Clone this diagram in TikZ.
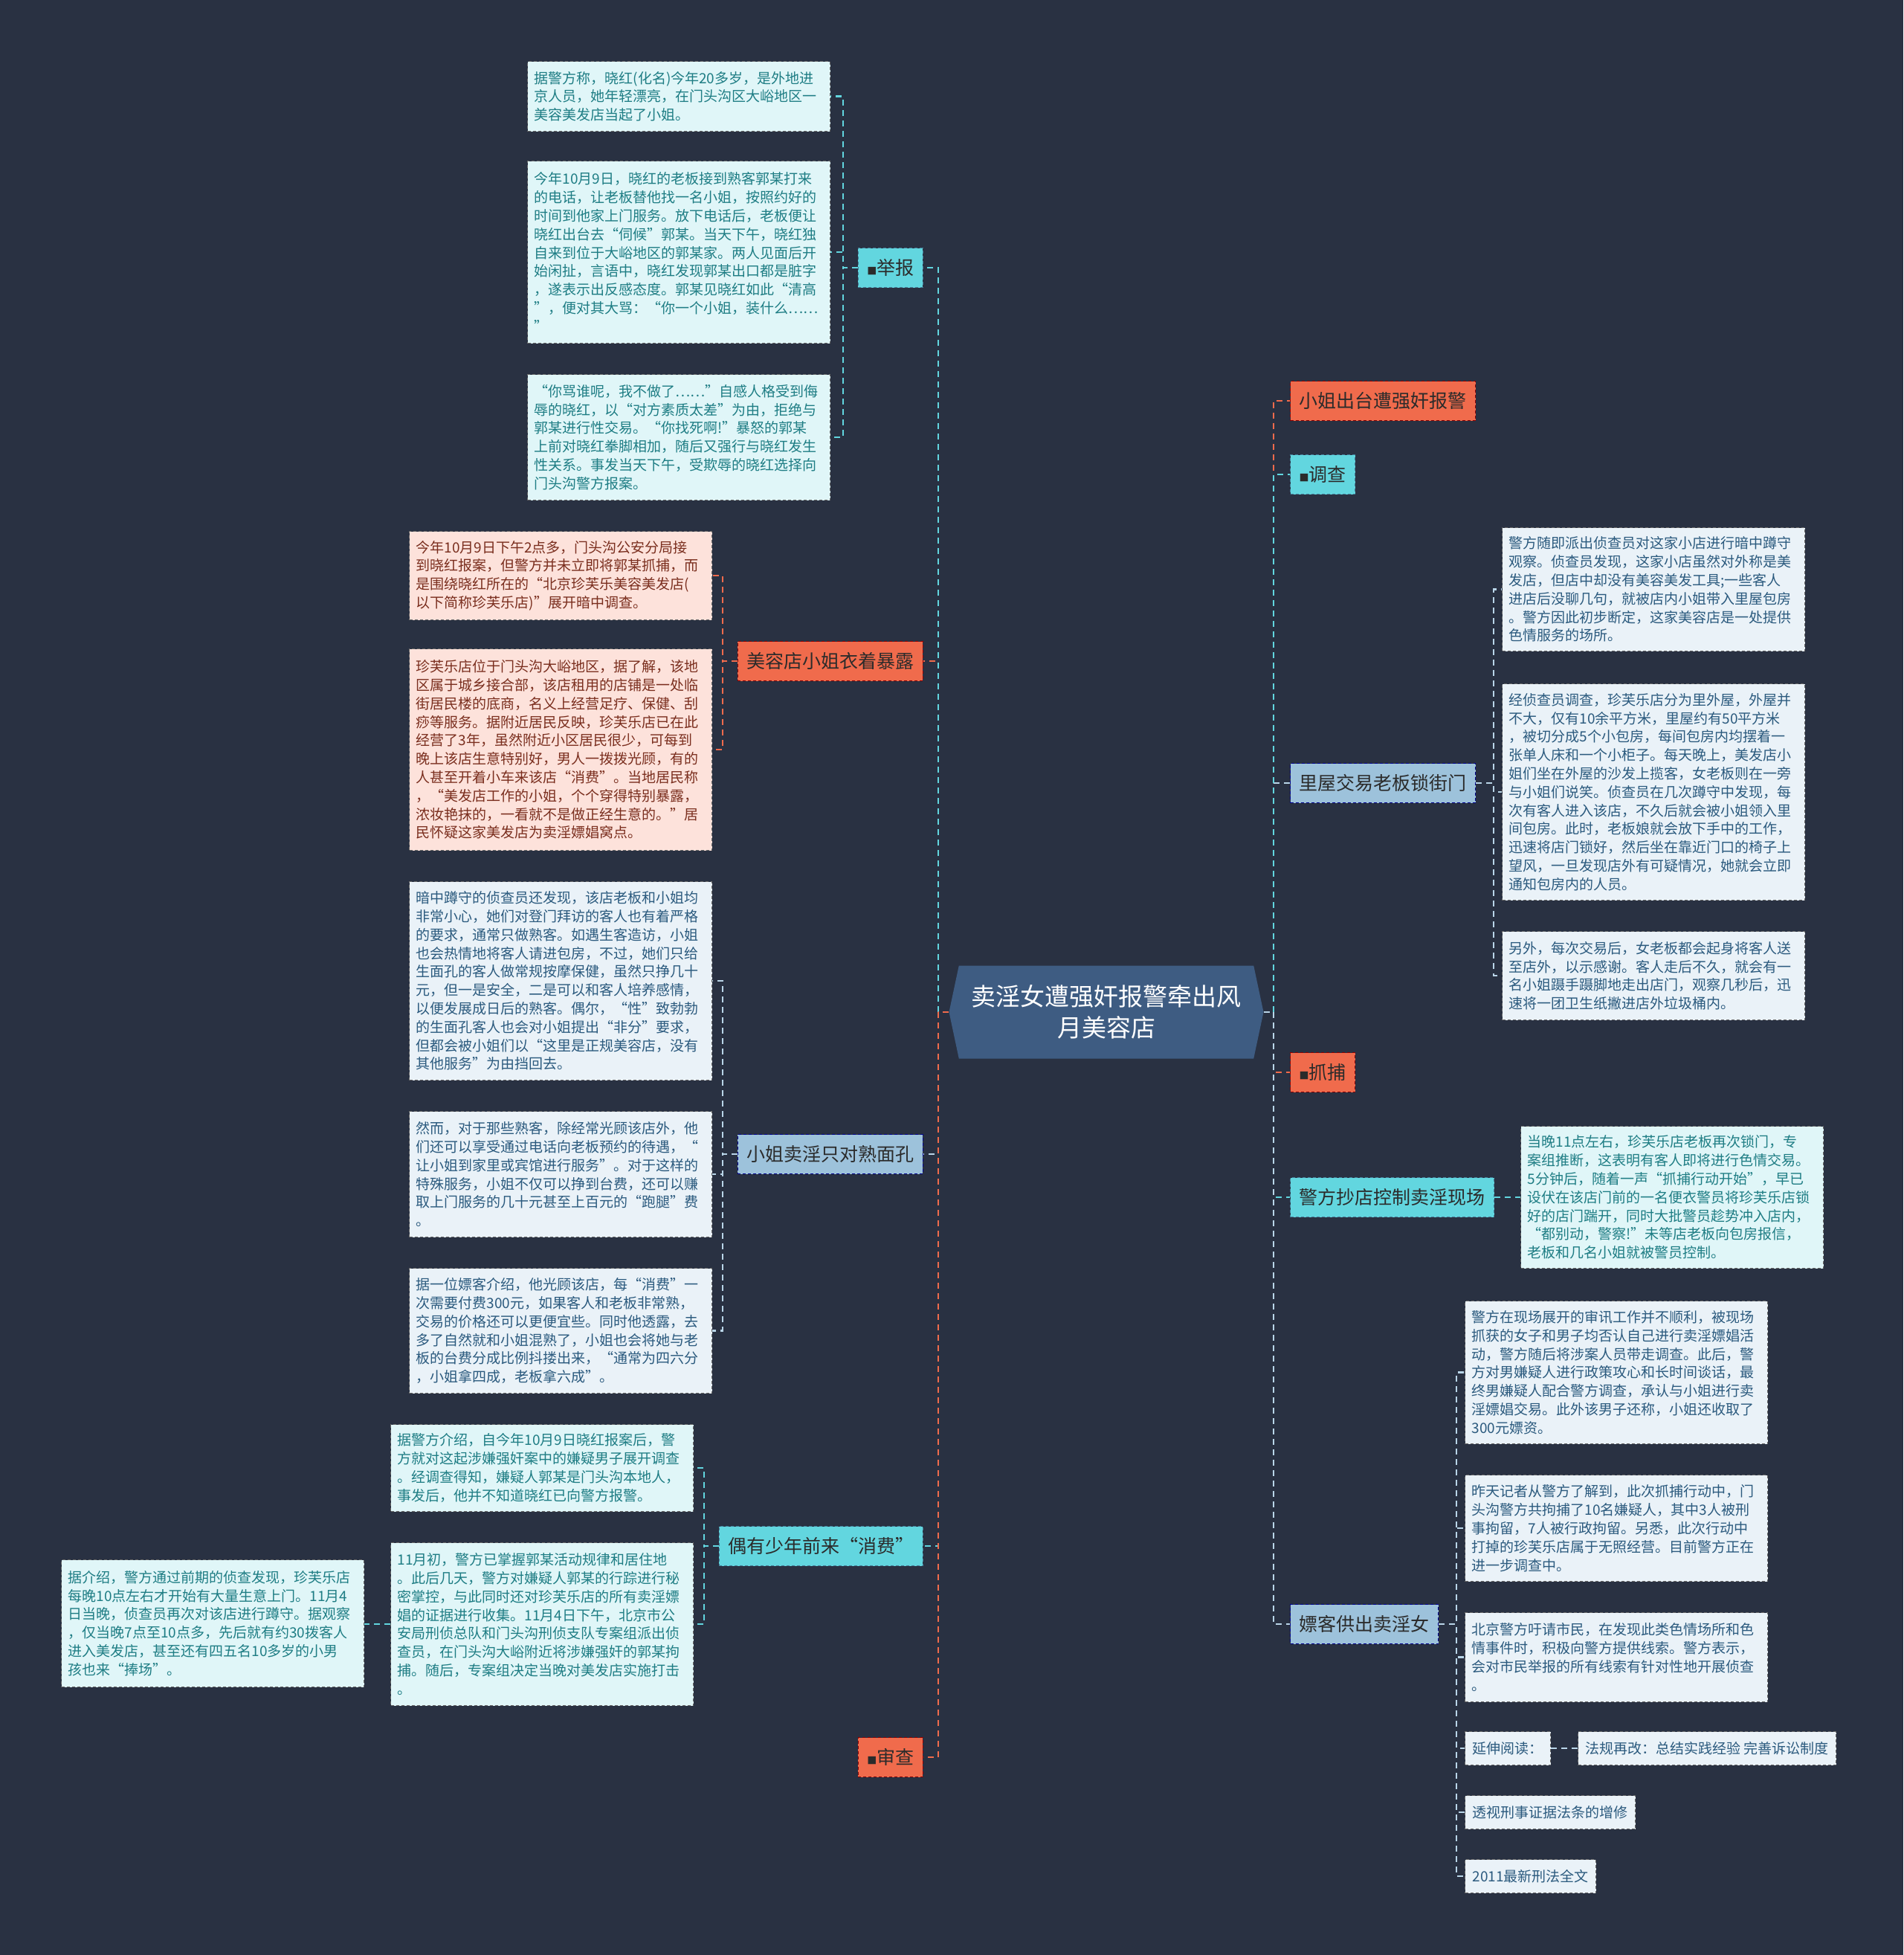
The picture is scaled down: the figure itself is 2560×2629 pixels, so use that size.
\documentclass[tikz,border=0pt]{standalone}
\usepackage{fontspec}
\setmainfont{Noto Sans CJK SC}
\usetikzlibrary{shapes.symbols}
\definecolor{bgc}{HTML}{293142}
\definecolor{hubc}{HTML}{3E5C82}
\definecolor{redc}{HTML}{F06B4C}
\definecolor{cyanc}{HTML}{62D6DF}
\definecolor{bluec}{HTML}{9DC2DB}
\definecolor{bluel}{HTML}{B9D5E8}
\definecolor{redleaf}{HTML}{FDE2DB}
\definecolor{cyanleaf}{HTML}{E0F6F8}
\definecolor{blueleaf}{HTML}{EAF2F8}
\definecolor{redtxt}{HTML}{7A2E1E}
\definecolor{cyantxt}{HTML}{1E7D84}
\definecolor{bluetxt}{HTML}{2B5A7E}
\definecolor{ink}{HTML}{2B2B2B}
\newcommand{\blk}{{\fontsize{13}{13}\selectfont■}}

\begin{document}
\begin{tikzpicture}[x=1pt,y=-1pt,
    hub/.style={signal, signal to=west and east, signal pointer angle=156, fill=hubc, text=white, align=center, font=\fontsize{33}{42}\selectfont, minimum width=423pt, minimum height=125pt, inner sep=0pt},
    topic/.style={draw=#1!55!black, dash pattern=on 4pt off 3pt, line width=1.2pt, fill=#1c, text=ink, font=\fontsize{25}{30}\selectfont, minimum height=53pt, inner xsep=12pt, inner ysep=0pt},
    leaf/.style={anchor=north west, draw=black!60, dash pattern=on 4pt off 3pt, line width=1.2pt, fill=#1leaf, text=#1txt, font=\fontsize{19}{24.8}\selectfont, text width=389pt, align=left, inner xsep=9pt, inner ysep=8pt},
    tag/.style={anchor=north west, draw=black!60, dash pattern=on 4pt off 3pt, line width=1.2pt, fill=blueleaf, text=bluetxt, font=\fontsize{19}{24.8}\selectfont, inner xsep=10pt, minimum height=45pt},
    link/.style={draw=#1, line width=2.5pt, dash pattern=on 8pt off 6pt}
  ]
  \fill[bgc] (0,0) rectangle (2560,2629);
  \useasboundingbox (0,0) rectangle (2560,2629);

  \node[hub] (ctr) at (1488,1361) {卖淫女遭强奸报警牵出风\\月美容店};
  \coordinate (lt) at (1262,1361);
  \coordinate (rt) at (1713,1361);

  \node[topic=cyan, anchor=east] (jb) at (1242,360) {\blk 举报};
  \node[topic=red, anchor=east] (mr) at (1242,889) {美容店小姐衣着暴露};
  \node[topic=blue, anchor=east] (xj) at (1242,1552) {小姐卖淫只对熟面孔};
  \node[topic=cyan, anchor=east] (oy) at (1242,2079) {偶有少年前来“消费”};
  \node[topic=red, anchor=east] (sc) at (1242,2363) {\blk 审查};

  \node[topic=red, anchor=west] (xt) at (1735,539) {小姐出台遭强奸报警};
  \node[topic=cyan, anchor=west] (dc) at (1735,638) {\blk 调查};
  \node[topic=blue, anchor=west] (lw) at (1735,1053) {里屋交易老板锁街门};
  \node[topic=red, anchor=west] (zb) at (1735,1442) {\blk 抓捕};
  \node[topic=cyan, anchor=west] (jf) at (1735,1610) {警方抄店控制卖淫现场};
  \node[topic=blue, anchor=west] (pk) at (1735,2184) {嫖客供出卖淫女};

  \node[leaf=cyan, minimum height=94pt] (jbA) at (709,82) {据警方称，晓红(化名)今年20多岁，是外地进\\京人员，她年轻漂亮，在门头沟区大峪地区一\\美容美发店当起了小姐。};
  \node[leaf=cyan, minimum height=245pt] (jbB) at (709,216) {今年10月9日，晓红的老板接到熟客郭某打来\\的电话，让老板替他找一名小姐，按照约好的\\时间到他家上门服务。放下电话后，老板便让\\晓红出台去“伺候”郭某。当天下午，晓红独\\自来到位于大峪地区的郭某家。两人见面后开\\始闲扯，言语中，晓红发现郭某出口都是脏字\\，遂表示出反感态度。郭某见晓红如此“清高\\”，便对其大骂：“你一个小姐，装什么……\\”};
  \node[leaf=cyan, minimum height=169pt] (jbC) at (709,503) {“你骂谁呢，我不做了……”自感人格受到侮\\辱的晓红，以“对方素质太差”为由，拒绝与\\郭某进行性交易。“你找死啊!”暴怒的郭某\\上前对晓红拳脚相加，随后又强行与晓红发生\\性关系。事发当天下午，受欺辱的晓红选择向\\门头沟警方报案。};

  \node[leaf=red, minimum height=119pt] (mrA) at (550,714) {今年10月9日下午2点多，门头沟公安分局接\\到晓红报案，但警方并未立即将郭某抓捕，而\\是围绕晓红所在的“北京珍芙乐美容美发店(\\以下简称珍芙乐店)”展开暗中调查。};
  \node[leaf=red, minimum height=271pt] (mrB) at (550,872) {珍芙乐店位于门头沟大峪地区，据了解，该地\\区属于城乡接合部，该店租用的店铺是一处临\\街居民楼的底商，名义上经营足疗、保健、刮\\痧等服务。据附近居民反映，珍芙乐店已在此\\经营了3年，虽然附近小区居民很少，可每到\\晚上该店生意特别好，男人一拨拨光顾，有的\\人甚至开着小车来该店“消费”。当地居民称\\，“美发店工作的小姐，个个穿得特别暴露，\\浓妆艳抹的，一看就不是做正经生意的。”居\\民怀疑这家美发店为卖淫嫖娼窝点。};

  \node[leaf=blue, minimum height=267pt] (xjA) at (550,1185) {暗中蹲守的侦查员还发现，该店老板和小姐均\\非常小心，她们对登门拜访的客人也有着严格\\的要求，通常只做熟客。如遇生客造访，小姐\\也会热情地将客人请进包房，不过，她们只给\\生面孔的客人做常规按摩保健，虽然只挣几十\\元，但一是安全，二是可以和客人培养感情，\\以便发展成日后的熟客。偶尔，“性”致勃勃\\的生面孔客人也会对小姐提出“非分”要求，\\但都会被小姐们以“这里是正规美容店，没有\\其他服务”为由挡回去。};
  \node[leaf=blue, minimum height=169pt] (xjB) at (550,1494) {然而，对于那些熟客，除经常光顾该店外，他\\们还可以享受通过电话向老板预约的待遇，“\\让小姐到家里或宾馆进行服务”。对于这样的\\特殊服务，小姐不仅可以挣到台费，还可以赚\\取上门服务的几十元甚至上百元的“跑腿”费\\。};
  \node[leaf=blue, minimum height=168pt] (xjC) at (550,1705) {据一位嫖客介绍，他光顾该店，每“消费”一\\次需要付费300元，如果客人和老板非常熟，\\交易的价格还可以更便宜些。同时他透露，去\\多了自然就和小姐混熟了，小姐也会将她与老\\板的台费分成比例抖搂出来，“通常为四六分\\，小姐拿四成，老板拿六成”。};

  \node[leaf=cyan, minimum height=117pt] (oyA) at (525,1915) {据警方介绍，自今年10月9日晓红报案后，警\\方就对这起涉嫌强奸案中的嫌疑男子展开调查\\。经调查得知，嫌疑人郭某是门头沟本地人，\\事发后，他并不知道晓红已向警方报警。};
  \node[leaf=cyan, minimum height=219pt] (oyB) at (525,2074) {11月初，警方已掌握郭某活动规律和居住地\\。此后几天，警方对嫌疑人郭某的行踪进行秘\\密掌控，与此同时还对珍芙乐店的所有卖淫嫖\\娼的证据进行收集。11月4日下午，北京市公\\安局刑侦总队和门头沟刑侦支队专案组派出侦\\查员，在门头沟大峪附近将涉嫌强奸的郭某拘\\捕。随后，专案组决定当晚对美发店实施打击\\。};
  \node[leaf=cyan, minimum height=171pt] (oyC) at (82,2097) {据介绍，警方通过前期的侦查发现，珍芙乐店\\每晚10点左右才开始有大量生意上门。11月4\\日当晚，侦查员再次对该店进行蹲守。据观察\\，仅当晚7点至10点多，先后就有约30拨客人\\进入美发店，甚至还有四五名10多岁的小男\\孩也来“捧场”。};

  \node[leaf=blue, minimum height=166pt] (lwA) at (2020,709) {警方随即派出侦查员对这家小店进行暗中蹲守\\观察。侦查员发现，这家小店虽然对外称是美\\发店，但店中却没有美容美发工具;一些客人\\进店后没聊几句，就被店内小姐带入里屋包房\\。警方因此初步断定，这家美容店是一处提供\\色情服务的场所。};
  \node[leaf=blue, minimum height=291pt] (lwB) at (2020,919) {经侦查员调查，珍芙乐店分为里外屋，外屋并\\不大，仅有10余平方米，里屋约有50平方米\\，被切分成5个小包房，每间包房内均摆着一\\张单人床和一个小柜子。每天晚上，美发店小\\姐们坐在外屋的沙发上揽客，女老板则在一旁\\与小姐们说笑。侦查员在几次蹲守中发现，每\\次有客人进入该店，不久后就会被小姐领入里\\间包房。此时，老板娘就会放下手中的工作，\\迅速将店门锁好，然后坐在靠近门口的椅子上\\望风，一旦发现店外有可疑情况，她就会立即\\通知包房内的人员。};
  \node[leaf=blue, minimum height=119pt] (lwC) at (2020,1252) {另外，每次交易后，女老板都会起身将客人送\\至店外，以示感谢。客人走后不久，就会有一\\名小姐蹑手蹑脚地走出店门，观察几秒后，迅\\速将一团卫生纸撇进店外垃圾桶内。};

  \node[leaf=cyan, minimum height=191pt] (jfA) at (2045,1514) {当晚11点左右，珍芙乐店老板再次锁门，专\\案组推断，这表明有客人即将进行色情交易。\\5分钟后，随着一声“抓捕行动开始”，早已\\设伏在该店门前的一名便衣警员将珍芙乐店锁\\好的店门踹开，同时大批警员趁势冲入店内，\\“都别动，警察!”未等店老板向包房报信，\\老板和几名小姐就被警员控制。};

  \node[leaf=blue, minimum height=192pt] (pkA) at (1970,1749) {警方在现场展开的审讯工作并不顺利，被现场\\抓获的女子和男子均否认自己进行卖淫嫖娼活\\动，警方随后将涉案人员带走调查。此后，警\\方对男嫌疑人进行政策攻心和长时间谈话，最\\终男嫌疑人配合警方调查，承认与小姐进行卖\\淫嫖娼交易。此外该男子还称，小姐还收取了\\300元嫖资。};
  \node[leaf=blue, minimum height=143pt] (pkB) at (1970,1983) {昨天记者从警方了解到，此次抓捕行动中，门\\头沟警方共拘捕了10名嫌疑人，其中3人被刑\\事拘留，7人被行政拘留。另悉，此次行动中\\打掉的珍芙乐店属于无照经营。目前警方正在\\进一步调查中。};
  \node[leaf=blue, minimum height=120pt] (pkC) at (1970,2168) {北京警方吁请市民，在发现此类色情场所和色\\情事件时，积极向警方提供线索。警方表示，\\会对市民举报的所有线索有针对性地开展侦查\\。};
  \node[tag] (yd) at (1970,2328) {延伸阅读：};
  \node[tag] (fg) at (2122,2328) {法规再改：总结实践经验 完善诉讼制度};
  \node[tag] (ts) at (1970,2414) {透视刑事证据法条的增修};
  \node[tag] (xf) at (1970,2500) {2011最新刑法全文};

  \draw[link=bluel] (lt) |- (xj.east);
  \draw[link=cyanc] (lt) |- (oy.east);
  \draw[link=redc] (lt) |- (mr.east);
  \draw[link=redc] (lt) |- (sc.east);
  \draw[link=cyanc] (lt) |- (jb.east);
  \draw[link=redc] (ctr.west) -- (lt);

  \draw[link=bluel] (rt) |- (lw.west);
  \draw[link=redc] (rt) |- (xt.west);
  \draw[link=cyanc] (rt) |- (dc.west);
  \draw[link=redc] (rt) |- (zb.west);
  \draw[link=cyanc] (rt) |- (jf.west);
  \draw[link=bluel] (rt) |- (pk.west);
  \draw[link=bluel] (ctr.east) -- (rt);

  \draw[link=cyanc] (jb.west) -- ++(-20,0) |- (jbA.east);
  \draw[link=cyanc] (jb.west) -- ++(-20,0) |- (jbB.east);
  \draw[link=cyanc] (jb.west) -- ++(-20,0) |- (jbC.east);
  \draw[link=redc] (mr.west) -- ++(-20,0) |- (mrA.east);
  \draw[link=redc] (mr.west) -- ++(-20,0) |- (mrB.east);
  \draw[link=bluel] (xj.west) -- ++(-20,0) |- (xjA.east);
  \draw[link=bluel] (xj.west) -- ++(-20,0) |- (xjB.east);
  \draw[link=bluel] (xj.west) -- ++(-20,0) |- (xjC.east);
  \draw[link=cyanc] (oy.west) -- ++(-20,0) |- (oyA.east);
  \draw[link=cyanc] (oy.west) -- ++(-20,0) |- (oyB.east);
  \draw[link=cyanc] (oyB.west) -- (oyB.west -| oyC.east);

  \draw[link=bluel] (lw.east) -- ++(24,0) |- (lwA.west);
  \draw[link=bluel] (lw.east) -- ++(24,0) |- (lwB.west);
  \draw[link=bluel] (lw.east) -- ++(24,0) |- (lwC.west);
  \draw[link=cyanc] (jf.east) -- (jfA.west |- jf.east);
  \draw[link=bluel] (pk.east) -- ++(24,0) |- (pkA.west);
  \draw[link=bluel] (pk.east) -- ++(24,0) |- (pkB.west);
  \draw[link=bluel] (pk.east) -- ++(24,0) |- (pkC.west);
  \draw[link=bluel] (pk.east) -- ++(24,0) |- (yd.west);
  \draw[link=bluel] (pk.east) -- ++(24,0) |- (ts.west);
  \draw[link=bluel] (pk.east) -- ++(24,0) |- (xf.west);
  \draw[link=bluel] (yd.east) -- (fg.west);
\end{tikzpicture}
\end{document}
